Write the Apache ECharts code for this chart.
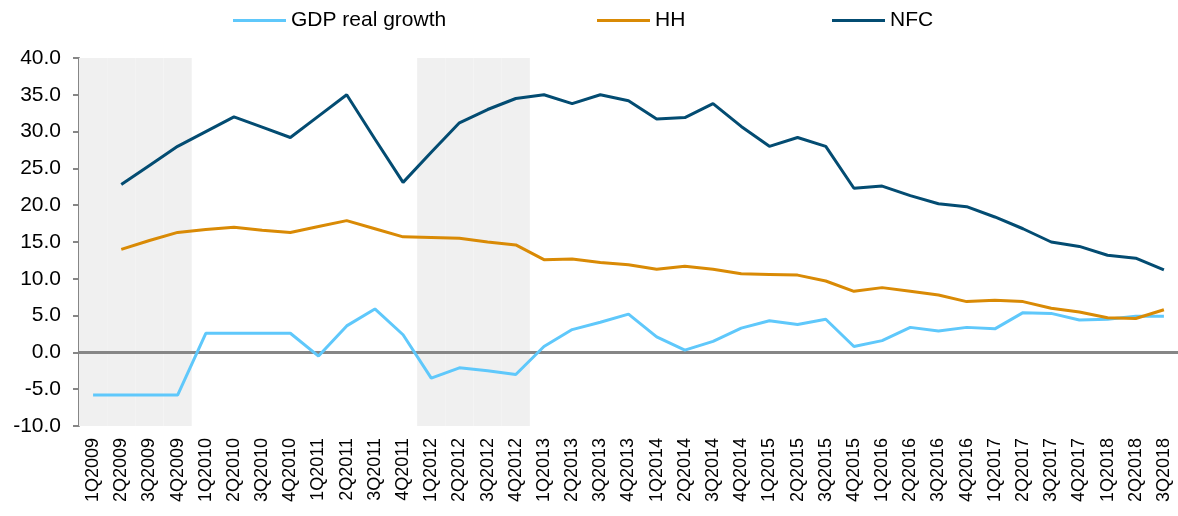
<!DOCTYPE html>
<html>
<head>
<meta charset="utf-8">
<title>GDP real growth, HH and NFC</title>
<script src="https://cdn.jsdelivr.net/npm/echarts@6/dist/echarts.min.js"></script>
<style>
  html, body { margin: 0; padding: 0; background: #ffffff; }
  #chart { width: 1178px; height: 516px; }
</style>
</head>
<body>
<div id="chart"></div>
<script>
// Quarterly categories, 1Q2009 .. 3Q2018
const quarters = [
  '1Q2009','2Q2009','3Q2009','4Q2009',
  '1Q2010','2Q2010','3Q2010','4Q2010',
  '1Q2011','2Q2011','3Q2011','4Q2011',
  '1Q2012','2Q2012','3Q2012','4Q2012',
  '1Q2013','2Q2013','3Q2013','4Q2013',
  '1Q2014','2Q2014','3Q2014','4Q2014',
  '1Q2015','2Q2015','3Q2015','4Q2015',
  '1Q2016','2Q2016','3Q2016','4Q2016',
  '1Q2017','2Q2017','3Q2017','4Q2017',
  '1Q2018','2Q2018','3Q2018'
];

const gdpRealGrowth = [
  -5.8, -5.8, -5.8, -5.8,
  2.6, 2.6, 2.6, 2.6,
  -0.5, 3.6, 5.9, 2.4,
  -3.5, -2.1, -2.5, -3.0,
  0.8, 3.1, 4.1, 5.2,
  2.1, 0.3, 1.5, 3.3,
  4.3, 3.8, 4.5, 0.8,
  1.6, 3.4, 2.9, 3.4,
  3.2, 5.4, 5.3, 4.4,
  4.5, 4.9, 4.9
];

const hh = [
  '-', 14.0, 15.2, 16.3,
  16.7, 17.0, 16.6, 16.3,
  17.1, 17.9, 16.8, 15.7,
  15.6, 15.5, 15.0, 14.6,
  12.6, 12.7, 12.2, 11.9,
  11.3, 11.7, 11.3, 10.7,
  10.6, 10.5, 9.7, 8.3,
  8.8, 8.3, 7.8, 6.9,
  7.1, 6.9, 6.0, 5.5,
  4.7, 4.6, 5.8
];

const nfc = [
  '-', 22.8, 25.4, 28.0,
  30.0, 32.0, 30.6, 29.2,
  32.1, 35.0, 29.0, 23.1,
  27.2, 31.2, 33.0, 34.5,
  35.0, 33.8, 35.0, 34.2,
  31.7, 31.9, 33.8, 30.7,
  28.0, 29.2, 28.0, 22.3,
  22.6, 21.3, 20.2, 19.8,
  18.4, 16.8, 15.0, 14.4,
  13.2, 12.8, 11.2
];

// Quarters highlighted with a grey background band
const shadedQuarters = [
  '1Q2009','2Q2009','3Q2009','4Q2009',
  '1Q2012','2Q2012','3Q2012','4Q2012'
];

const seriesNames = ['GDP real growth', 'HH', 'NFC'];

const yTicks = { min: -10, max: 40, interval: 5 };

const colors = { gdp: '#5FC8FB', hh: '#D98A05', nfc: '#034C72', band: '#F0F0F0', axis: '#868686' };

// Band bars: one positive part up to the top, one negative part down to the bottom
const bandUp = quarters.map(q => shadedQuarters.includes(q) ? yTicks.max : '-');
const bandDown = quarters.map(q => shadedQuarters.includes(q) ? yTicks.min : '-');

const chart = echarts.init(document.getElementById('chart'), null, { renderer: 'canvas' });

const fontFamily = 'Arial, "Liberation Sans", sans-serif';

// One legend block per series so each entry sits at its own spot along the top
const legendLeft = [233, 597, 832];
const legends = seriesNames.map((name, i) => ({
  top: 10,
  left: legendLeft[i],
  padding: 0,
  itemWidth: 53,
  itemHeight: 3,
  itemGap: 0,
  icon: 'rect',
  data: [name],
  selectedMode: false,
  textStyle: { fontFamily: fontFamily, fontSize: 21, color: '#000000' }
}));

const lineSeries = (name, data, color, z) => ({
  name: name,
  type: 'line',
  data: data,
  showSymbol: false,
  symbol: 'none',
  lineStyle: { color: color, width: 3 },
  itemStyle: { color: color },
  z: z
});

const gdpSeries = lineSeries(seriesNames[0], gdpRealGrowth, colors.gdp, 3);
// Zero reference line drawn across the plot
gdpSeries.markLine = {
  silent: true,
  symbol: ['none', 'none'],
  label: { show: false },
  lineStyle: { color: colors.axis, width: 3, type: 'solid' },
  data: [{ yAxis: 0 }],
  z: 2
};

chart.setOption({
  animation: false,
  backgroundColor: '#ffffff',
  textStyle: { fontFamily: fontFamily },
  grid: { left: 79, right: 0, top: 58, bottom: 90, containLabel: false },
  legend: legends,
  xAxis: {
    type: 'category',
    data: quarters,
    boundaryGap: true,
    axisLine: { show: false, onZero: false },
    axisTick: { show: false },
    axisLabel: {
      rotate: 90,
      interval: 0,
      margin: 12,
      fontSize: 18,
      color: '#000000',
      fontFamily: fontFamily
    },
    splitLine: { show: false }
  },
  yAxis: {
    type: 'value',
    min: yTicks.min,
    max: yTicks.max,
    interval: yTicks.interval,
    axisLine: { show: true, lineStyle: { color: colors.axis, width: 2 } },
    axisTick: { show: true, length: 6, lineStyle: { color: colors.axis, width: 2 } },
    axisLabel: {
      fontSize: 21,
      color: '#000000',
      margin: 18,
      fontFamily: fontFamily,
      formatter: v => v.toFixed(1)
    },
    splitLine: { show: false }
  },
  series: [
    {
      name: 'bandUp',
      type: 'bar',
      stack: 'band',
      data: bandUp,
      barWidth: '100%',
      barGap: '-100%',
      itemStyle: { color: colors.band },
      silent: true,
      z: 1
    },
    {
      name: 'bandDown',
      type: 'bar',
      stack: 'band',
      data: bandDown,
      barWidth: '100%',
      barGap: '-100%',
      itemStyle: { color: colors.band },
      silent: true,
      z: 1
    },
    gdpSeries,
    lineSeries(seriesNames[1], hh, colors.hh, 4),
    lineSeries(seriesNames[2], nfc, colors.nfc, 5)
  ]
});
</script>
</body>
</html>
